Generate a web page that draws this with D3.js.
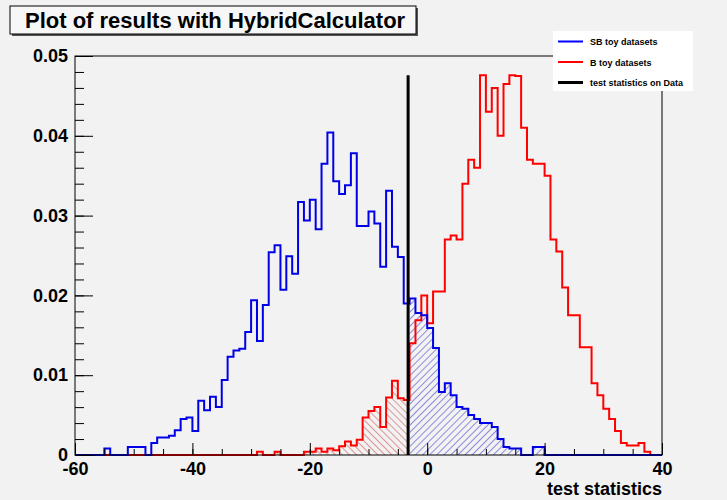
<!DOCTYPE html>
<html>
<head>
<meta charset="utf-8">
<style>
  body { margin: 0; background: #f2f2f2; }
  svg text { font-family: "Liberation Sans", Arial, sans-serif; font-weight: bold; fill: #000; }
  .hist { fill: none; stroke-width: 2px; stroke-linejoin: miter; }
  .axis path { display: none; }
  .axis line { stroke: #000; stroke-width: 1px; }
  .axis text { font-size: 18px; }
</style>
</head>
<body>
<div id="chart"></div>
<script src="https://cdn.jsdelivr.net/npm/d3@7"></script>
<script>
// bins of width 1 from -60 to 40
var binStart = -60, binWidth = 1;

// SB toy datasets (blue)
var sbValues = [
  0, 0, 0, 0, 0,                                   // -60..-56
  0.0008, 0, 0, 0, 0.001, 0.001, 0.001, 0,         // -55..-48
  0.0015, 0.0022, 0.0022, 0.0024, 0.0031, 0.0045, 0.0047, 0.003,   // -47..-40
  0.0068, 0.0056, 0.0073, 0.006, 0.0094, 0.0123, 0.0131, 0.0133,   // -39..-32
  0.0154, 0.0194, 0.0143, 0.0188, 0.0254, 0.0263, 0.0207, 0.0249,  // -31..-24
  0.0227, 0.0317, 0.0294, 0.032, 0.0283, 0.0365, 0.0404, 0.0343,   // -23..-16
  0.0327, 0.0338, 0.0378, 0.0287, 0.0287, 0.0305, 0.029, 0.0236,   // -15..-8
  0.0331, 0.0261, 0.0248, 0.019, 0.0196, 0.0178, 0.0175, 0.0159,   // -7..0
  0.0134, 0.0079, 0.009, 0.0075, 0.006, 0.0058, 0.005, 0.0045,     // 1..8
  0.004, 0.004, 0.0035, 0.002, 0.001, 0.0008, 0.0008, 0,           // 9..16
  0, 0.001, 0.001, 0, 0, 0, 0, 0,                                  // 17..24
  0, 0, 0, 0, 0, 0, 0, 0, 0, 0, 0, 0, 0, 0, 0                      // 25..39
];

// B toy datasets (red)
var bValues = [
  0, 0, 0, 0, 0, 0, 0, 0, 0, 0,                    // -60..-51
  0, 0, 0, 0, 0, 0, 0, 0, 0, 0,                    // -50..-41
  0, 0, 0, 0, 0, 0, 0, 0, 0, 0,                    // -40..-31
  0, 0.0004, 0, 0, 0.0004, 0, 0, 0, 0,             // -30..-22
  0.0004, 0.0004, 0.0008, 0.0004, 0.0008, 0.0006, 0.0011, 0.0017, // -21..-14
  0.0012, 0.0019, 0.0047, 0.0055, 0.006, 0.0035, 0.0072, 0.0093,   // -13..-6
  0.0071, 0.0069, 0.014, 0.0169, 0.02, 0.0165, 0.0205, 0.0205,     // -5..2
  0.027, 0.0275, 0.027, 0.034, 0.037, 0.036, 0.0476, 0.043,        // 3..10
  0.046, 0.040, 0.0465, 0.0476, 0.0475, 0.041, 0.037, 0.0365,      // 11..18
  0.0365, 0.035, 0.027, 0.0255, 0.021, 0.0175, 0.0175, 0.0135,     // 19..26
  0.0135, 0.009, 0.0075, 0.0058, 0.0045, 0.003, 0.0015, 0.0012,    // 27..34
  0.0012, 0.0015, 0.0004, 0, 0                                     // 35..39
];

var dataTestStat = -3.25;
var xTicks = [-60, -40, -20, 0, 20, 40];
var yTicks = [0, 0.01, 0.02, 0.03, 0.04, 0.05];
var legendLabels = ["SB toy datasets", "B toy datasets", "test statistics on Data"];
var legendColors = ["#0000ff", "#ff0000", "#000000"];

var width = 727, height = 500;
var frameLeft = 75, frameRight = 662, frameTop = 56, frameBottom = 455;

var svg = d3.select("#chart").append("svg")
    .attr("width", width)
    .attr("height", height);

var x = d3.scaleLinear().domain([-60, 40]).range([frameLeft, frameRight]);
var y = d3.scaleLinear().domain([0, 0.05]).range([frameBottom, frameTop]);

var defs = svg.append("defs");
function hatch(id, color, angle) {
  var p = defs.append("pattern")
      .attr("id", id)
      .attr("patternUnits", "userSpaceOnUse")
      .attr("width", 5).attr("height", 5)
      .attr("patternTransform", "rotate(" + angle + ")");
  p.append("line")
      .attr("x1", 0).attr("y1", 0).attr("x2", 0).attr("y2", 5)
      .attr("stroke", color).attr("stroke-width", 1);
}
hatch("hatchRed", "#c83a3a", -45);
hatch("hatchBlue", "#2525c8", 45);

function points(values) {
  var pts = values.map(function(v, i) { return [binStart + i * binWidth, v]; });
  pts.push([binStart + values.length * binWidth, values[values.length - 1]]);
  return pts;
}

var line = d3.line()
    .x(function(d) { return x(d[0]); })
    .y(function(d) { return y(d[1]); })
    .curve(d3.curveStepAfter);

var area = d3.area()
    .x(function(d) { return x(d[0]); })
    .y0(y(0))
    .y1(function(d) { return y(d[1]); })
    .curve(d3.curveStepAfter);

// shaded parts: bins whose centre is on either side of the data value
function shadedPoints(values, keepLeft) {
  var pts = [];
  values.forEach(function(v, i) {
    var c = binStart + (i + 0.5) * binWidth;
    if ((c < dataTestStat) === keepLeft) pts.push([binStart + i * binWidth, v]);
  });
  var last = pts[pts.length - 1];
  pts.push([last[0] + binWidth, last[1]]);
  return pts;
}

svg.append("path")
    .attr("d", area(shadedPoints(bValues, true)))
    .attr("fill", "url(#hatchRed)");
svg.append("path")
    .attr("d", area(shadedPoints(sbValues, false)))
    .attr("fill", "url(#hatchBlue)");

svg.append("path")
    .attr("class", "hist")
    .attr("stroke", "#ff0000")
    .attr("d", line(points(bValues)));
svg.append("path")
    .attr("class", "hist")
    .attr("stroke", "#0000e6")
    .attr("d", line(points(sbValues)));

// frame
svg.append("rect")
    .attr("x", frameLeft).attr("y", frameTop)
    .attr("width", frameRight - frameLeft).attr("height", frameBottom - frameTop)
    .attr("fill", "none").attr("stroke", "#000").attr("stroke-width", 1);

// axes (ticks inside the frame, ROOT style)
svg.append("g").attr("class", "axis")
    .attr("transform", "translate(0," + frameBottom + ")")
    .call(d3.axisBottom(x).tickValues(d3.range(-60, 41, 5)).tickSizeInner(-6).tickSizeOuter(0).tickFormat(""));
svg.append("g").attr("class", "axis")
    .attr("transform", "translate(0," + frameBottom + ")")
    .call(d3.axisBottom(x).tickValues(xTicks).tickSizeInner(-12).tickSizeOuter(0).tickPadding(7)
      .tickFormat(function(d) { return String(d); }));

svg.append("g").attr("class", "axis")
    .attr("transform", "translate(" + frameLeft + ",0)")
    .call(d3.axisLeft(y).tickValues(d3.range(0, 0.0501, 0.002)).tickSizeInner(-9).tickSizeOuter(0).tickFormat(""));
svg.append("g").attr("class", "axis")
    .attr("transform", "translate(" + frameLeft + ",0)")
    .call(d3.axisLeft(y).tickValues(yTicks).tickSizeInner(-18).tickSizeOuter(0).tickPadding(7)
      .tickFormat(function(d) { return d === 0 ? "0" : d.toFixed(2); }));

svg.append("text")
    .attr("x", frameRight).attr("y", 495)
    .attr("text-anchor", "end")
    .style("font-size", "18px")
    .text("test statistics");

// test statistic on data
svg.append("line")
    .attr("x1", x(dataTestStat)).attr("x2", x(dataTestStat))
    .attr("y1", y(0)).attr("y2", y(d3.max(bValues.concat(sbValues))))
    .attr("stroke", "#000").attr("stroke-width", 3);

// title box
svg.append("rect")
    .attr("x", 12).attr("y", 8).attr("width", 406).attr("height", 28)
    .attr("fill", "#555");
svg.append("rect")
    .attr("x", 10).attr("y", 6).attr("width", 406).attr("height", 28)
    .attr("fill", "#f7f7f7").attr("stroke", "#000").attr("stroke-width", 1);
svg.append("text")
    .attr("x", 25).attr("y", 28)
    .style("font-size", "22px")
    .text("Plot of results with HybridCalculator");

// legend
var lg = svg.append("g");
lg.append("rect")
    .attr("x", 553).attr("y", 31).attr("width", 140).attr("height", 60)
    .attr("fill", "#fff");
legendLabels.forEach(function(t, i) {
  var ly = 41.5 + i * 20.5;
  lg.append("line")
      .attr("x1", 558).attr("x2", 583).attr("y1", ly).attr("y2", ly)
      .attr("stroke", legendColors[i]).attr("stroke-width", i === 2 ? 3 : 2);
  lg.append("text")
      .attr("x", 590).attr("y", ly + 3.5)
      .style("font-size", "9px")
      .text(t);
});
</script>
</body>
</html>
